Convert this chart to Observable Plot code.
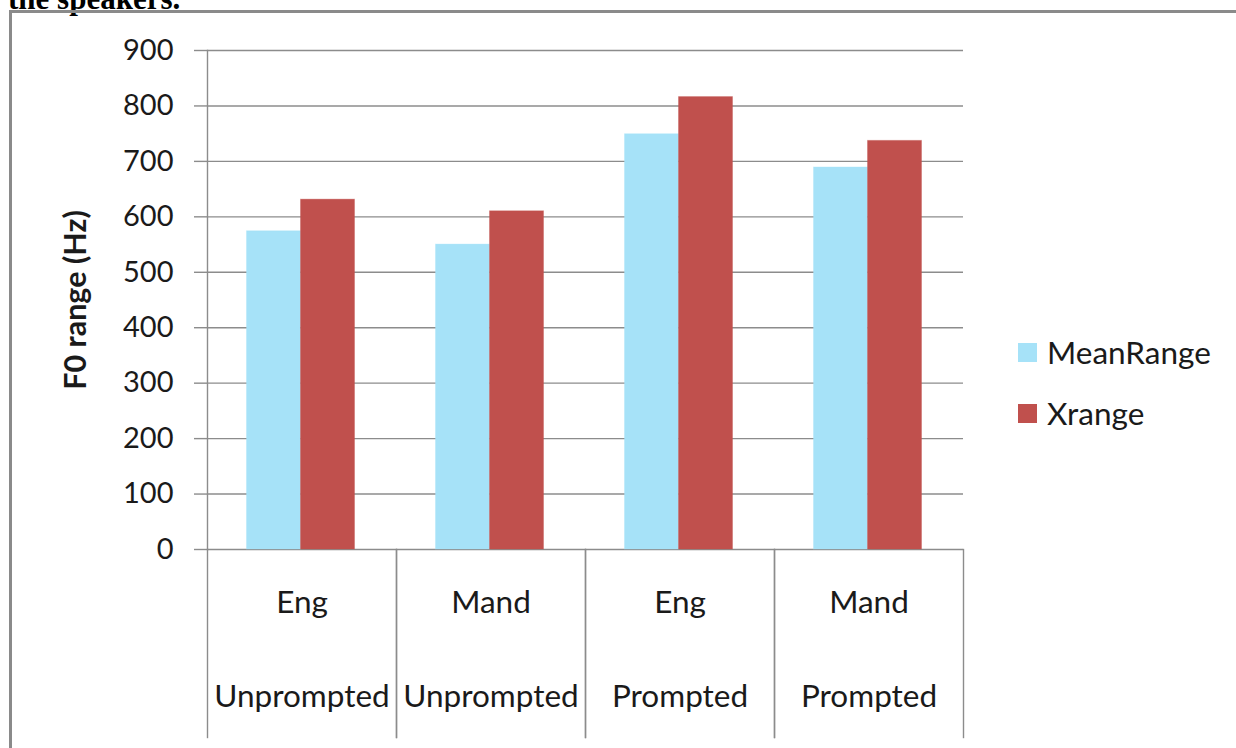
<!DOCTYPE html>
<html>
<head>
<meta charset="utf-8">
<script src="https://cdn.jsdelivr.net/npm/d3@7"></script>
<script src="https://cdn.jsdelivr.net/npm/@observablehq/plot@0.6"></script>
<style>
  html, body { margin: 0; padding: 0; background: #fff; }
  #page { position: relative; width: 1236px; height: 748px; overflow: hidden; background: #fff; }
  #caption {
    position: absolute; left: 8px; top: -17px; margin: 0;
    font-family: "Liberation Serif", serif; font-weight: bold; font-size: 31px; line-height: 1;
    color: #000; white-space: nowrap;
  }
  #box {
    position: absolute; left: 9px; top: 10px; width: 1400px; height: 900px;
    border-top: 3px solid #8a8a8a; border-left: 3px solid #8a8a8a;
  }
  #chart { position: absolute; left: 0; top: 0; }
  #chart svg [aria-label="y-axis label"] text { font-weight: bold; font-size: 30.5px; }
  #legend {
    position: absolute; left: 1018px; top: 330px;
    font-family: Lato, sans-serif; font-size: 31.5px; color: #1a1a1a;
  }
  .item { display: flex; align-items: center; height: 44px; margin-bottom: 17px; }
  .swatch { width: 19px; height: 19px; margin-right: 10px; box-sizing: border-box; }
</style>
</head>
<body>
<div id="page">
  <div id="caption">the speakers.</div>
  <div id="box"></div>
  <div id="chart"></div>
  <div id="legend"></div>
</div>
<script>
// Language / condition groups along the bottom
const languages = ["Eng", "Mand", "Eng", "Mand"];
const conditions = ["Unprompted", "Unprompted", "Prompted", "Prompted"];

// Series and their values (Hz)
const series = ["MeanRange", "Xrange"];
const meanRange = [574, 550, 749, 689];
const xRange = [631, 610, 816, 737];
const seriesColors = ["#a6e2f8", "#c0504d"];

const yTicks = [0, 100, 200, 300, 400, 500, 600, 700, 800, 900];

const groups = languages.map((lang, i) => ({key: `${lang} ${conditions[i]}`, lang, cond: conditions[i]}));
const rows = groups.flatMap((g, i) => [
  {group: g.key, series: series[0], value: meanRange[i]},
  {group: g.key, series: series[1], value: xRange[i]}
]);

const gridColor = "#8c8c8c";

const chart = Plot.plot({
  width: 1236,
  height: 748,
  marginLeft: 206,
  marginRight: 272,
  marginTop: 50,
  marginBottom: 199,
  style: {fontFamily: "Lato, sans-serif", fontSize: "29px", color: "#1a1a1a", background: "transparent", overflow: "visible"},
  fx: {domain: groups.map(g => g.key), padding: 0, axis: null},
  x: {domain: series, paddingInner: 0, paddingOuter: 0.75, axis: null},
  y: {domain: [0, 900]},
  color: {domain: series, range: seriesColors},
  marks: [
    Plot.gridY(yTicks, {stroke: gridColor, strokeOpacity: 1, strokeWidth: 1.4}),
    Plot.barY(rows, {fx: "group", x: "series", y: "value", fill: "series", stroke: "series", strokeOpacity: 0.35, strokeWidth: 1, dx: -1.5}),
    Plot.axisY(yTicks, {
      tickSize: 13, tickPadding: 21, stroke: gridColor, strokeWidth: 1.4,
      label: "F0 range (Hz)", labelAnchor: "center", labelOffset: 143, labelArrow: "none"
    }),
    // value axis line on the leftmost group
    Plot.frame({anchor: "left", facetAnchor: "left", stroke: gridColor, strokeWidth: 1.4}),
    // group dividers below the category axis
    Plot.frame({anchor: "left", insetTop: 499, insetBottom: -188, stroke: gridColor, strokeWidth: 1.4}),
    Plot.frame({anchor: "right", insetTop: 499, insetBottom: -188, stroke: gridColor, strokeWidth: 1.4}),
    Plot.text(groups, {fx: "key", text: "lang", frameAnchor: "bottom", dy: 63, fontSize: 31.5}),
    Plot.text(groups, {fx: "key", text: "cond", frameAnchor: "bottom", dy: 157, fontSize: 31.5})
  ]
});
document.getElementById("chart").append(chart);

// Legend
const legend = document.getElementById("legend");
series.forEach((s, i) => {
  const item = document.createElement("div");
  item.className = "item";
  const sw = document.createElement("span");
  sw.className = "swatch";
  sw.style.background = seriesColors[i];
  const label = document.createElement("span");
  label.textContent = s;
  item.append(sw, label);
  legend.append(item);
});
</script>
</body>
</html>
